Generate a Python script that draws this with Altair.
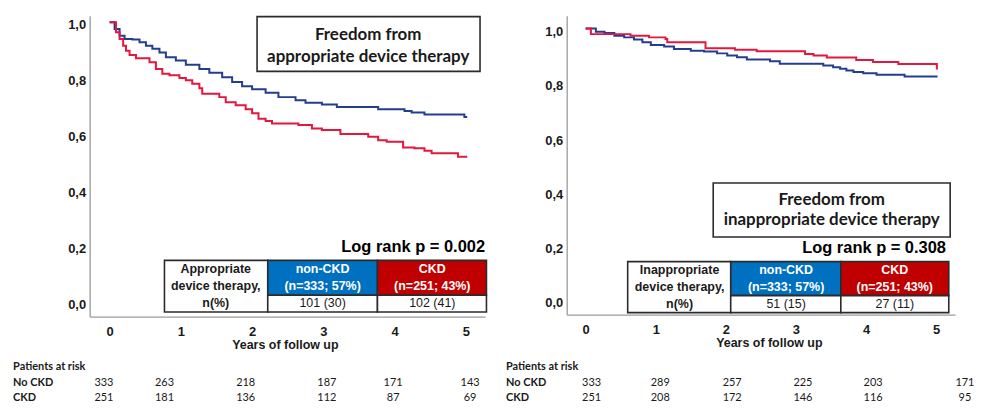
import altair as alt
import pandas as pd

# ---------------- data ----------------
groups = ["No CKD", "CKD"]
year_ticks = [0, 1, 2, 3, 4, 5]
surv_ticks = [0.0, 0.2, 0.4, 0.6, 0.8, 1.0]

# Freedom from appropriate device therapy (Kaplan-Meier)
app_nockd_t = [0, 0.07, 0.14, 0.21, 0.32, 0.42, 0.51, 0.60, 0.70, 0.79, 0.93, 1.07, 1.26, 1.40, 1.58,
               1.72, 1.86, 2.00, 2.19, 2.37, 2.61, 2.75, 2.98, 3.19, 3.77, 4.14, 4.24, 4.42, 4.98, 5.02]
app_nockd_s = [1.0, 0.976, 0.952, 0.940, 0.938, 0.928, 0.916, 0.905, 0.892, 0.875, 0.863, 0.848, 0.833,
               0.819, 0.803, 0.786, 0.771, 0.760, 0.748, 0.732, 0.721, 0.712, 0.706, 0.697, 0.689, 0.682,
               0.677, 0.670, 0.661, 0.661]
app_ckd_t = [0, 0.09, 0.14, 0.19, 0.23, 0.28, 0.37, 0.56, 0.65, 0.74, 0.84, 0.98, 1.07, 1.16, 1.26, 1.30,
             1.54, 1.63, 1.77, 1.91, 2.00, 2.09, 2.19, 2.28, 2.65, 2.84, 2.98, 3.24, 3.63, 3.77, 3.89, 4.12,
             4.28, 4.42, 4.52, 4.89, 5.02]
app_ckd_s = [1.0, 0.964, 0.940, 0.916, 0.898, 0.883, 0.871, 0.857, 0.833, 0.816, 0.810, 0.800, 0.792,
             0.780, 0.764, 0.744, 0.732, 0.714, 0.703, 0.689, 0.674, 0.655, 0.647, 0.638, 0.632, 0.620,
             0.614, 0.600, 0.590, 0.578, 0.572, 0.552, 0.549, 0.540, 0.531, 0.519, 0.519]

# Freedom from inappropriate device therapy
inapp_nockd_t = [0, 0.146, 0.27, 0.41, 0.55, 0.69, 0.81, 0.93, 1.12, 1.26, 1.50, 1.69, 1.875, 2.02, 2.16,
                 2.30, 2.63, 2.77, 3.39, 3.53, 3.63, 3.72, 3.82, 3.96, 4.15, 4.55, 5.02]
inapp_nockd_s = [1.0, 0.988, 0.983, 0.973, 0.967, 0.959, 0.949, 0.939, 0.933, 0.924, 0.918, 0.915, 0.908,
                 0.900, 0.894, 0.885, 0.879, 0.870, 0.863, 0.857, 0.851, 0.845, 0.839, 0.835, 0.829,
                 0.823, 0.823]
inapp_ckd_t = [0, 0.075, 0.64, 0.905, 1.14, 1.165, 1.71, 2.13, 2.44, 3.13, 3.25, 3.44, 3.86, 4.10, 4.46,
               5.00, 5.01]
inapp_ckd_s = [1.0, 0.979, 0.973, 0.967, 0.961, 0.949, 0.927, 0.921, 0.916, 0.906, 0.900, 0.893, 0.884,
               0.876, 0.869, 0.869, 0.849]

# patients at risk
app_risk_nockd = [333, 263, 218, 187, 171, 143]
app_risk_ckd = [251, 181, 136, 112, 87, 69]
inapp_risk_nockd = [333, 289, 257, 225, 203, 171]
inapp_risk_ckd = [251, 208, 172, 146, 116, 95]

# table contents
header_nockd = ["non-CKD", "(n=333; 57%)"]
header_ckd = ["CKD", "(n=251; 43%)"]
app_label = ["Appropriate", "device therapy,", "n(%)"]
inapp_label = ["Inappropriate", "device therapy,", "n(%)"]
app_events = ["101 (30)", "102 (41)"]
inapp_events = ["51 (15)", "27 (11)"]
app_title = ["Freedom from", "appropriate device therapy"]
inapp_title = ["Freedom from", "inappropriate device therapy"]
app_p = "Log rank p = 0.002"
inapp_p = "Log rank p = 0.308"

# ---------------- style ----------------
BLUE_LINE = "#243E8E"
RED_LINE = "#E4173F"
HEAD_BLUE = "#0070C0"
HEAD_RED = "#C00000"
DARK = "#1a1a1a"
ARIAL = "Liberation Sans"
CAL = "Lato"


def panel(cfg):
    xs = alt.Scale(domain=cfg["xdom"], nice=False, zero=False)
    ys = alt.Scale(domain=cfg["ydom"], nice=False, zero=False)
    xaxis = alt.Axis(values=year_ticks, format="d", title="Years of follow up", ticks=False, tickSize=0,
                     grid=False, domainColor="#9a9a9a", domainWidth=1.3, labelFont=ARIAL,
                     labelFontWeight="bold", labelFontSize=13, labelColor=DARK, labelPadding=9,
                     labelFlush=False, titleFont=ARIAL, titleFontSize=12.5, titleFontWeight="bold",
                     titleColor=DARK, titlePadding=0, titleX=cfg["titleX"])
    yaxis = alt.Axis(values=surv_ticks, title=None, ticks=False, tickSize=0, grid=False,
                     domainColor="#9a9a9a", domainWidth=1.3, labelFont=ARIAL, labelFontWeight="bold",
                     labelFontSize=13, labelColor=DARK, labelPadding=4, labelOffset=cfg["yoff"],
                     labelExpr="replace(format(datum.value, '.1f'), '.', ',')")

    def X(f="x"):
        return alt.X(f"{f}:Q", scale=xs, axis=xaxis)

    def Y(f="y"):
        return alt.Y(f"{f}:Q", scale=ys, axis=yaxis)

    curves = pd.DataFrame({
        "x": list(cfg["t0"]) + list(cfg["t1"]),
        "y": list(cfg["s0"]) + list(cfg["s1"]),
        "g": [groups[0]] * len(cfg["t0"]) + [groups[1]] * len(cfg["t1"]),
    })
    lines = alt.Chart(curves).mark_line(interpolate="step-after", strokeWidth=2).encode(
        x=X(), y=Y(),
        color=alt.Color("g:N", scale=alt.Scale(domain=groups, range=[BLUE_LINE, RED_LINE]), legend=None),
    )

    bx0, bx1, by0, by1 = cfg["box"]
    tx = cfg["tab_x"]
    ty = cfg["tab_y"]
    rects = pd.DataFrame({
        "x": [bx0, tx[0], tx[1], tx[2], tx[1], tx[2]],
        "x2": [bx1, tx[1], tx[2], tx[3], tx[2], tx[3]],
        "y": [by0, ty[0], ty[0], ty[0], ty[1], ty[1]],
        "y2": [by1, ty[2], ty[1], ty[1], ty[2], ty[2]],
        "fill": ["white", "white", HEAD_BLUE, HEAD_RED, "white", "white"],
    })
    box_layer = alt.Chart(rects).mark_rect(stroke="#2b2b2b", strokeWidth=1.6).encode(
        x=X(), x2="x2:Q", y=Y(), y2="y2:Q", fill=alt.Fill("fill:N", scale=None))

    def text_layer(df, **kw):
        return alt.Chart(df).mark_text(**kw).encode(x=X(), y=Y(), text="t:N")

    ly = cfg["line_y"]
    cc = cfg["col_c"]
    title_df = pd.DataFrame({"x": [cfg["title_x"]] * 2, "y": cfg["title_y"], "t": cfg["title"]})
    p_df = pd.DataFrame({"x": [cfg["p_xy"][0]], "y": [cfg["p_xy"][1]], "t": [cfg["p"]]})
    lab_df = pd.DataFrame({"x": [cc[0]] * 3, "y": ly, "t": cfg["label"]})
    head_df = pd.DataFrame({"x": [cc[1], cc[1], cc[2], cc[2]], "y": [ly[0], ly[1], ly[0], ly[1]],
                            "t": header_nockd + header_ckd})
    val_df = pd.DataFrame({"x": [cc[1], cc[2]], "y": [ly[2], ly[2]], "t": cfg["events"]})

    rx = cfg["risk_x"]
    ry = cfg["risk_y"]
    rlab_df = pd.DataFrame({"x": [cfg["risk_lab_x"]] * 2, "y": ry[1:], "t": groups})
    rhead_df = pd.DataFrame({"x": [cfg["risk_lab_x"]], "y": [ry[0]], "t": ["Patients at risk"]})
    rnum_df = pd.DataFrame({"x": list(rx) * 2, "y": [ry[1]] * 6 + [ry[2]] * 6,
                            "t": [str(v) for v in cfg["risk0"] + cfg["risk1"]]})

    layers = [
        lines,
        box_layer,
        text_layer(title_df, font=CAL, fontSize=17, fontWeight="bold", color=DARK, align="center",
                   baseline="middle"),
        text_layer(p_df, font=ARIAL, fontSize=16.5, fontWeight="bold", color="#000", align="right",
                   baseline="middle"),
        text_layer(lab_df, font=ARIAL, fontSize=12.5, fontWeight="bold", color=DARK, align="center",
                   baseline="middle"),
        text_layer(head_df, font=ARIAL, fontSize=12.5, fontWeight="bold", color="white", align="center",
                   baseline="middle"),
        text_layer(val_df, font=ARIAL, fontSize=12.5, color=DARK, align="center", baseline="middle"),
        text_layer(rhead_df, font=CAL, fontSize=11, fontWeight="bold", color=DARK, align="left",
                   baseline="middle"),
        text_layer(rlab_df, font=CAL, fontSize=11, fontWeight="bold", color=DARK, align="left",
                   baseline="middle"),
        text_layer(rnum_df, font=CAL, fontSize=11, color=DARK, align="center", baseline="middle"),
    ]
    return alt.layer(*layers).properties(width=cfg["w"], height=cfg["h"])


left_cfg = dict(
    xdom=[-0.28, 5.27], ydom=[-0.053, 1.023], w=397, h=302, yoff=2.5, titleX=196,
    t0=app_nockd_t, s0=app_nockd_s, t1=app_ckd_t, s1=app_ckd_s,
    box=[2.07, 5.20, 1.020, 0.824], title_x=3.63, title_y=[0.955, 0.877], title=app_title,
    p=app_p, p_xy=[5.27, 0.194],
    tab_x=[0.77, 2.22, 3.76, 5.29], tab_y=[0.148, 0.023, -0.037],
    line_y=[0.116, 0.055, -0.005], col_c=[1.49, 2.99, 4.53],
    label=app_label, events=app_events,
    risk_x=[-0.08, 0.77, 1.91, 3.05, 3.98, 5.06], risk_y=[-0.233, -0.290, -0.344], risk_lab_x=-1.355,
    risk0=app_risk_nockd, risk1=app_risk_ckd,
)
right_cfg = dict(
    xdom=[-0.27, 5.27], ydom=[-0.055, 1.0466], w=390, h=300, yoff=3.3, titleX=203,
    t0=inapp_nockd_t, s0=inapp_nockd_s, t1=inapp_ckd_t, s1=inapp_ckd_s,
    box=[1.82, 5.20, 0.430, 0.231], title_x=3.51, title_y=[0.367, 0.294], title=inapp_title,
    p=inapp_p, p_xy=[5.14, 0.191],
    tab_x=[0.60, 2.07, 3.64, 5.18], tab_y=[0.140, 0.0147, -0.048],
    line_y=[0.110, 0.048, -0.0147], col_c=[1.34, 2.86, 4.41],
    label=inapp_label, events=inapp_events,
    risk_x=[0.085, 1.065, 2.09, 3.10, 4.10, 5.41], risk_y=[-0.250, -0.308, -0.364], risk_lab_x=-1.136,
    risk0=inapp_risk_nockd, risk1=inapp_risk_ckd,
)

chart = alt.hconcat(panel(left_cfg), panel(right_cfg), spacing=82, bounds="flush").properties(
    padding={"left": 5, "top": 7, "right": 0, "bottom": 0}
).configure_view(strokeWidth=0)

chart.save("out.html", embed_options={"renderer": "svg", "actions": False})
